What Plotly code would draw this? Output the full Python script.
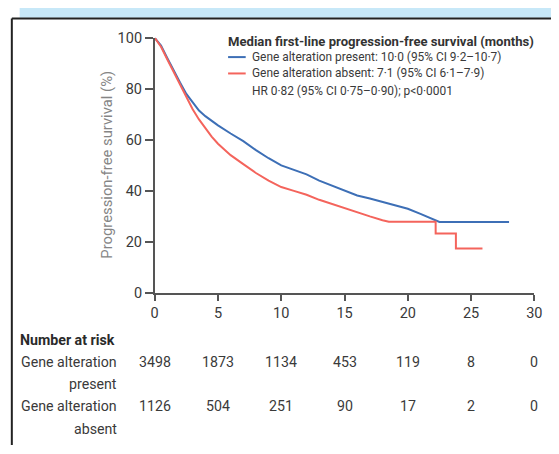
import plotly.graph_objects as go

# ---- data ----
present_t = [0, 0.5, 1, 1.5, 2, 2.5, 3, 3.5, 4, 4.5, 5, 6, 7, 8, 9, 10, 11, 12, 13, 14, 15,
             16, 17, 18, 19, 20, 21, 22, 22.5, 28]
present_s = [100, 97, 92, 87, 82.5, 78, 74.5, 71.5, 69.3, 67.5, 65.7, 62.5, 59.5, 56, 52.8, 50,
             48.3, 46.5, 44, 42, 40, 38.2, 37, 35.6, 34.4, 33, 31, 29, 27.8, 27.8]
absent_t = [0, 0.5, 1, 1.5, 2, 2.5, 3, 3.5, 4, 4.5, 5, 6, 7, 8, 9, 10, 11, 12, 13, 14, 15,
            16, 17, 18, 18.5, 22.2, 22.2, 23.8, 23.8, 25.9]
absent_s = [100, 96.5, 91.5, 86.5, 81.5, 76.5, 72, 68, 64.5, 61.3, 58.5, 54, 50.5, 47, 44,
            41.5, 40, 38.5, 36.5, 34.8, 33.2, 31.5, 30, 28.5, 27.9, 27.9, 23.3, 23.3,
            17.4, 17.4]
x_ticks = [0, 5, 10, 15, 20, 25, 30]
y_ticks = [0, 20, 40, 60, 80, 100]
risk_present = [3498, 1873, 1134, 453, 119, 8, 0]
risk_absent = [1126, 504, 251, 90, 17, 2, 0]
legend_title = "Median first-line progression-free survival (months)"
legend_present = "Gene alteration present: 10·0 (95% CI 9·2–10·7)"
legend_absent = "Gene alteration absent: 7·1 (95% CI 6·1–7·9)"
hr_text = "HR 0·82 (95% CI 0·75–0·90); p<0·0001"

# ---- styling ----
W, H = 559, 454
BLUE = "#3d6fb6"
RED = "#f4645c"
FONT = "Roboto, sans-serif"
TXT = "#3a3a3a"


def px(x):
    return x / W


def py(y):
    return 1 - y / H


fig = go.Figure()
fig.add_trace(go.Scatter(x=present_t, y=present_s, mode="lines",
                         line=dict(color=BLUE, width=2), showlegend=False))
fig.add_trace(go.Scatter(x=absent_t, y=absent_s, mode="lines",
                         line=dict(color=RED, width=2), showlegend=False))

fig.update_layout(
    width=W, height=H, margin=dict(l=0, r=0, t=0, b=0),
    paper_bgcolor="white", plot_bgcolor="white",
    font=dict(family=FONT, color=TXT, size=14),
    xaxis=dict(domain=[px(154), px(542)], range=[0, 30], tickvals=x_ticks,
               showgrid=False, zeroline=False, showline=True, linecolor="#555",
               linewidth=1.5, ticks="outside", ticklen=6, tickcolor="#555",
               tickwidth=1.5, tickfont=dict(size=14.5, color=TXT)),
    yaxis=dict(domain=[py(296), py(31)], range=[0, 100], tickvals=y_ticks,
               showgrid=False, zeroline=False, showline=True, linecolor="#555",
               linewidth=1.5, ticks="outside", ticklen=8, tickcolor="#555",
               tickwidth=1.5, tickfont=dict(size=14.5, color=TXT)),
)

shapes = [
    dict(type="rect", xref="paper", yref="paper", x0=px(16), x1=1, y0=py(10), y1=1,
         fillcolor="#c7e8f8", line=dict(width=0)),
    dict(type="line", xref="paper", yref="paper", x0=px(8), x1=px(8), y0=py(11), y1=0,
         line=dict(color="#222", width=2)),
    dict(type="line", xref="paper", yref="paper", x0=px(8), x1=1, y0=py(11), y1=py(11),
         line=dict(color="#222", width=2)),
    dict(type="line", xref="paper", yref="paper", x0=px(229), x1=px(247), y0=py(51), y1=py(51),
         line=dict(color=BLUE, width=2)),
    dict(type="line", xref="paper", yref="paper", x0=px(229), x1=px(247), y0=py(68), y1=py(68),
         line=dict(color=RED, width=2)),
]
fig.update_layout(shapes=shapes)

ann = []


def add_text(text, x, y, xanchor="left", size=12, color=TXT, angle=0):
    ann.append(dict(text=text, x=px(x), y=py(y), xref="paper", yref="paper",
                    xanchor=xanchor, yanchor="middle", showarrow=False,
                    font=dict(size=size, color=color, family=FONT), textangle=angle))


add_text("<b>" + legend_title + "</b>", 227, 35, size=13.1, color="#333")
add_text(legend_present, 251, 51, size=11.9)
add_text(legend_absent, 251, 68, size=11.9)
add_text(hr_text, 251, 86, size=11.9)
add_text("Progression-free survival (%)", 105, 163, xanchor="center", size=14.8,
         color="#858585", angle=-90)

add_text("<b>Number at risk</b>", 14, 345, size=14.2, color="#2a2a2a")
add_text("Gene alteration", 118, 368, xanchor="right", size=14.2)
add_text("present", 118, 391, xanchor="right", size=14.2)
add_text("Gene alteration", 118, 414, xanchor="right", size=14.2)
add_text("absent", 118, 437, xanchor="right", size=14.2)

for xv, a, b in zip(x_ticks, risk_present, risk_absent):
    ann.append(dict(text=str(a), x=xv, y=py(368), xref="x", yref="paper",
                    xanchor="center", yanchor="middle", showarrow=False,
                    font=dict(size=14.2, color=TXT, family=FONT)))
    ann.append(dict(text=str(b), x=xv, y=py(414), xref="x", yref="paper",
                    xanchor="center", yanchor="middle", showarrow=False,
                    font=dict(size=14.2, color=TXT, family=FONT)))

fig.update_layout(annotations=ann)
fig.write_html("out.html")
